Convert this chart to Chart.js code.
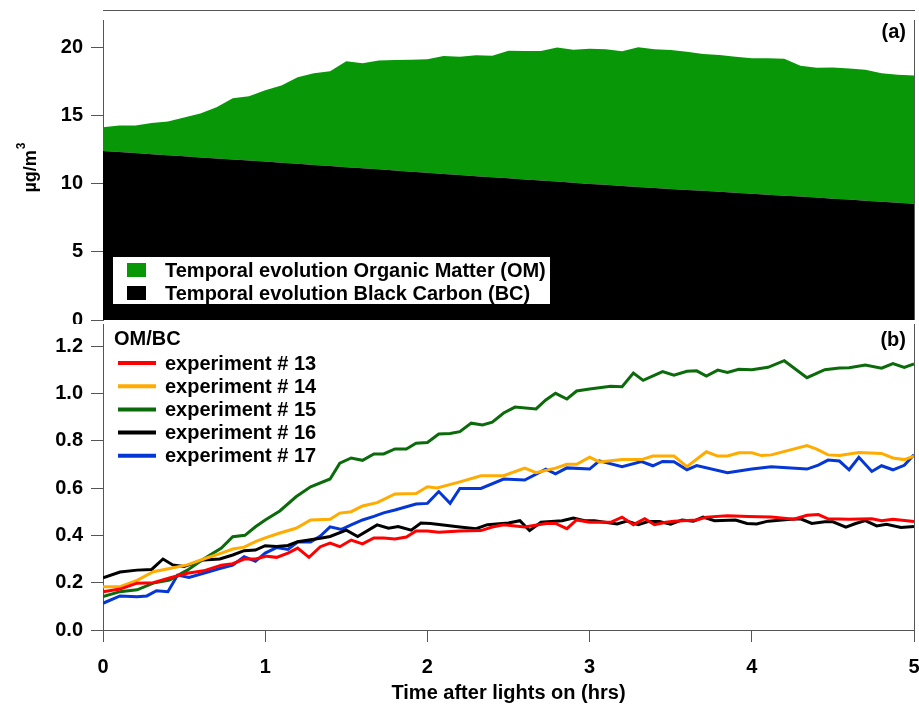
<!DOCTYPE html>
<html>
<head>
<meta charset="utf-8">
<script src="https://cdn.jsdelivr.net/npm/chart.js@4.4.1/dist/chart.umd.min.js"></script>
<style>
  html, body { margin: 0; padding: 0; background: #fff; }
  #wrap { position: relative; width: 919px; height: 705px; overflow: hidden; }
  #cTop { position: absolute; left: 0; top: 0; }
  #cBot { position: absolute; left: 0; top: 300px; }
</style>
</head>
<body>
<div id="wrap">
  <canvas id="cTop" width="919" height="340"></canvas>
  <canvas id="cBot" width="919" height="405"></canvas>
</div>
<script>
// ---- panel (a): mass concentrations, µg/m3 ----
var timeTop = [0, 0.1, 0.2, 0.3, 0.4, 0.5, 0.6, 0.7, 0.8, 0.9, 1.0, 1.1, 1.2, 1.3, 1.4, 1.5, 1.6, 1.7, 1.8, 1.9,
  2.0, 2.1, 2.2, 2.3, 2.4, 2.5, 2.6, 2.7, 2.8, 2.9, 3.0, 3.1, 3.2, 3.3, 3.4, 3.5, 3.6, 3.7, 3.8, 3.9,
  4.0, 4.1, 4.2, 4.3, 4.4, 4.5, 4.6, 4.7, 4.8, 4.9, 5.0];
var bcVals = [12.40, 12.32, 12.24, 12.16, 12.08, 12.00, 11.92, 11.85, 11.77, 11.70, 11.62, 11.54, 11.46, 11.37, 11.29,
  11.21, 11.13, 11.05, 10.97, 10.88, 10.80, 10.71, 10.63, 10.55, 10.47, 10.39, 10.31, 10.23, 10.15, 10.07,
  9.98, 9.91, 9.83, 9.76, 9.68, 9.61, 9.54, 9.47, 9.40, 9.33, 9.26, 9.19, 9.12, 9.05, 8.98, 8.90, 8.83,
  8.75, 8.67, 8.60, 8.52];
var omVals = [1.74, 1.94, 2.02, 2.29, 2.47, 2.85, 3.23, 3.75, 4.49, 4.70, 5.23, 5.66, 6.35, 6.73, 6.95, 7.76, 7.70,
  7.98, 8.10, 8.20, 8.32, 8.65, 8.68, 8.87, 8.91, 9.36, 9.41, 9.49, 9.83, 9.75, 9.91, 9.94, 9.88, 10.24,
  10.17, 10.19, 10.13, 10.03, 10.04, 9.97, 9.93, 10.00, 10.03, 9.60, 9.52, 9.62, 9.62, 9.60, 9.43, 9.38, 9.41];
var topTicks = [0, 5, 10, 15, 20];

// ---- panel (b): OM/BC ratio per experiment ----
var t13 = [0, 0.105, 0.21, 0.31, 0.41, 0.52, 0.62, 0.73, 0.8, 0.87, 0.94, 1.01, 1.07, 1.14, 1.2, 1.27, 1.34, 1.4, 1.46,
  1.53, 1.6, 1.67, 1.73, 1.8, 1.87, 1.93, 2.0, 2.07, 2.2, 2.33, 2.4, 2.47, 2.6, 2.73, 2.79, 2.86, 2.92, 3.0,
  3.13, 3.2, 3.27, 3.34, 3.4, 3.47, 3.52, 3.66, 3.72, 3.85, 3.98, 4.12, 4.26, 4.34, 4.41, 4.47, 4.6, 4.74,
  4.8, 4.87, 5.0];
var r13 = [0.162, 0.173, 0.198, 0.2, 0.22, 0.24, 0.25, 0.274, 0.28, 0.30, 0.30, 0.312, 0.307, 0.325, 0.346, 0.307,
  0.352, 0.367, 0.352, 0.38, 0.364, 0.389, 0.389, 0.385, 0.393, 0.418, 0.418, 0.413, 0.418, 0.42, 0.435,
  0.445, 0.435, 0.45, 0.45, 0.428, 0.465, 0.455, 0.455, 0.477, 0.445, 0.47, 0.445, 0.455, 0.46, 0.465,
  0.477, 0.483, 0.48, 0.477, 0.468, 0.485, 0.488, 0.47, 0.468, 0.47, 0.462, 0.468, 0.458];

var t14 = [0, 0.105, 0.21, 0.31, 0.41, 0.52, 0.62, 0.73, 0.8, 0.87, 0.94, 1.0, 1.09, 1.19, 1.28, 1.4, 1.46, 1.53, 1.6,
  1.69, 1.8, 1.93, 2.0, 2.06, 2.2, 2.33, 2.47, 2.6, 2.67, 2.79, 2.86, 2.92, 3.0, 3.06, 3.2, 3.32, 3.39, 3.52,
  3.6, 3.72, 3.79, 3.85, 3.92, 4.0, 4.06, 4.12, 4.34, 4.4, 4.47, 4.54, 4.66, 4.8, 4.87, 4.94, 5.0];
var r14 = [0.183, 0.183, 0.21, 0.246, 0.26, 0.275, 0.30, 0.325, 0.342, 0.35, 0.373, 0.389, 0.41, 0.43, 0.465, 0.468,
  0.494, 0.50, 0.524, 0.538, 0.575, 0.577, 0.605, 0.60, 0.626, 0.652, 0.652, 0.684, 0.665, 0.684, 0.70,
  0.70, 0.73, 0.71, 0.72, 0.72, 0.735, 0.735, 0.69, 0.753, 0.735, 0.735, 0.749, 0.749, 0.737, 0.74, 0.779,
  0.764, 0.74, 0.737, 0.75, 0.746, 0.727, 0.72, 0.735];

var t15 = [0, 0.105, 0.21, 0.31, 0.41, 0.52, 0.62, 0.73, 0.8, 0.875, 0.94, 1.0, 1.09, 1.19, 1.28, 1.4, 1.46, 1.53, 1.6,
  1.67, 1.73, 1.8, 1.87, 1.93, 2.0, 2.07, 2.14, 2.2, 2.27, 2.34, 2.4, 2.47, 2.54, 2.67, 2.73, 2.79, 2.86,
  2.92, 3.0, 3.13, 3.2, 3.27, 3.33, 3.45, 3.52, 3.6, 3.66, 3.72, 3.79, 3.85, 3.92, 4.0, 4.1, 4.2, 4.34, 4.45,
  4.54, 4.6, 4.7, 4.8, 4.87, 4.94, 5.0];
var r15 = [0.141, 0.162, 0.17, 0.198, 0.211, 0.253, 0.30, 0.346, 0.394, 0.40, 0.436, 0.465, 0.503, 0.563, 0.605,
  0.638, 0.705, 0.727, 0.717, 0.744, 0.744, 0.765, 0.765, 0.789, 0.792, 0.828, 0.83, 0.838, 0.874, 0.866,
  0.878, 0.917, 0.942, 0.934, 0.972, 1.0, 0.976, 1.01, 1.018, 1.03, 1.028, 1.086, 1.055, 1.092, 1.077,
  1.093, 1.095, 1.073, 1.098, 1.088, 1.102, 1.10, 1.11, 1.138, 1.066, 1.10, 1.107, 1.108, 1.12, 1.106,
  1.126, 1.11, 1.124];

var t16 = [0, 0.105, 0.21, 0.3, 0.37, 0.43, 0.5, 0.62, 0.72, 0.8, 0.87, 0.94, 1.0, 1.07, 1.14, 1.2, 1.34, 1.4, 1.5,
  1.57, 1.69, 1.76, 1.82, 1.9, 1.96, 2.02, 2.2, 2.3, 2.37, 2.5, 2.57, 2.63, 2.7, 2.83, 2.9, 2.97, 3.03, 3.17,
  3.23, 3.3, 3.36, 3.43, 3.5, 3.57, 3.64, 3.7, 3.77, 3.9, 3.97, 4.03, 4.1, 4.24, 4.3, 4.37, 4.45, 4.5, 4.58,
  4.64, 4.7, 4.77, 4.83, 4.92, 5.0];
var r16 = [0.22, 0.245, 0.253, 0.256, 0.30, 0.275, 0.268, 0.296, 0.30, 0.317, 0.335, 0.338, 0.356, 0.353, 0.357,
  0.373, 0.388, 0.395, 0.422, 0.395, 0.444, 0.43, 0.437, 0.422, 0.452, 0.45, 0.435, 0.428, 0.445, 0.452,
  0.462, 0.42, 0.455, 0.462, 0.473, 0.462, 0.462, 0.448, 0.46, 0.445, 0.458, 0.458, 0.447, 0.465, 0.46,
  0.477, 0.462, 0.465, 0.45, 0.448, 0.46, 0.468, 0.47, 0.45, 0.457, 0.457, 0.435, 0.45, 0.462, 0.44, 0.447,
  0.433, 0.437];

var t17 = [0, 0.105, 0.21, 0.27, 0.33, 0.4, 0.46, 0.53, 0.62, 0.72, 0.8, 0.87, 0.94, 1.0, 1.07, 1.14, 1.2, 1.28,
  1.34, 1.4, 1.47, 1.53, 1.6, 1.67, 1.73, 1.8, 1.93, 2.0, 2.07, 2.14, 2.2, 2.33, 2.47, 2.6, 2.73, 2.79,
  2.86, 3.0, 3.06, 3.2, 3.32, 3.39, 3.45, 3.52, 3.6, 3.66, 3.85, 3.92, 4.0, 4.12, 4.34, 4.41, 4.47, 4.54,
  4.6, 4.66, 4.74, 4.8, 4.87, 4.94, 5.0];
var r17 = [0.113, 0.144, 0.14, 0.144, 0.166, 0.162, 0.232, 0.222, 0.24, 0.26, 0.274, 0.31, 0.29, 0.325, 0.348, 0.34,
  0.372, 0.372, 0.397, 0.436, 0.425, 0.444, 0.465, 0.48, 0.495, 0.507, 0.532, 0.535, 0.585, 0.535, 0.598,
  0.598, 0.638, 0.634, 0.68, 0.66, 0.685, 0.68, 0.715, 0.69, 0.712, 0.694, 0.712, 0.711, 0.677, 0.695,
  0.665, 0.672, 0.68, 0.69, 0.68, 0.697, 0.718, 0.714, 0.677, 0.73, 0.67, 0.694, 0.677, 0.696, 0.74];

var botTicks = [0, 0.2, 0.4, 0.6, 0.8, 1.0, 1.2];
var xTicks = [0, 1, 2, 3, 4, 5];

var FONT = "'Liberation Sans', Arial, Helvetica, sans-serif";
var FS = 20; // main text size
var AXIS_COL = "#555";

function pts(xs, ys) {
  var out = [];
  for (var i = 0; i < xs.length; i++) out.push({ x: xs[i], y: ys[i] });
  return out;
}

function fixedTicks(list) {
  return function (axis) {
    axis.ticks = list.map(function (v) { return { value: v }; });
  };
}

// ---------- top chart ----------
var topDecor = {
  id: "topDecor",
  afterDraw: function (chart) {
    var ctx = chart.ctx;
    var a = chart.chartArea;
    ctx.save();
    ctx.strokeStyle = AXIS_COL;
    ctx.lineWidth = 1;
    ctx.beginPath();
    ctx.moveTo(a.left, 10.5);
    ctx.lineTo(a.right + 1, 10.5);
    ctx.moveTo(a.right + 0.5, a.top);
    ctx.lineTo(a.right + 0.5, a.bottom);
    ctx.stroke();

    // panel tag
    ctx.fillStyle = "#000";
    ctx.font = "bold " + FS + "px " + FONT;
    ctx.textAlign = "right";
    ctx.textBaseline = "middle";
    ctx.fillText("(a)", 906, 32);

    // legend box
    ctx.fillStyle = "#fff";
    ctx.fillRect(113, 257, 437, 47);
    var ds = chart.data.datasets;
    var order = [1, 0];
    ctx.textAlign = "left";
    for (var i = 0; i < order.length; i++) {
      var d = ds[order[i]];
      var cy = 270 + i * 23;
      ctx.fillStyle = d.backgroundColor;
      ctx.fillRect(127, cy - 7, 19, 14);
      ctx.fillStyle = "#000";
      ctx.fillText(d.label, 165, cy + 1);
    }

    // y title with superscript
    ctx.translate(36, 168);
    ctx.rotate(-Math.PI / 2);
    ctx.font = "bold 18px " + FONT;
    var w1 = ctx.measureText("µg/m").width;
    ctx.font = "bold 12px " + FONT;
    var w2 = ctx.measureText("3").width;
    var x0 = -(w1 + w2) / 2;
    ctx.font = "bold 18px " + FONT;
    ctx.textBaseline = "alphabetic";
    ctx.fillText("µg/m", x0, 0);
    ctx.font = "bold 12px " + FONT;
    ctx.fillText("3", x0 + w1 + 1, -11);
    ctx.restore();
  }
};

new Chart(document.getElementById("cTop"), {
  type: "line",
  data: {
    datasets: [
      {
        label: "Temporal evolution Black Carbon (BC)",
        data: pts(timeTop, bcVals),
        backgroundColor: "#000000",
        borderColor: "#000000",
        borderWidth: 0,
        pointRadius: 0,
        fill: "origin",
        tension: 0
      },
      {
        label: "Temporal evolution Organic Matter (OM)",
        data: pts(timeTop, omVals),
        backgroundColor: "#079707",
        borderColor: "#079707",
        borderWidth: 0,
        pointRadius: 0,
        fill: "-1",
        tension: 0
      }
    ]
  },
  options: {
    responsive: false,
    animation: false,
    layout: { padding: { top: 14, bottom: 18, left: 0, right: 5 } },
    plugins: { legend: { display: false }, tooltip: { enabled: false } },
    scales: {
      x: { type: "linear", min: 0, max: 5, display: false },
      y: {
        stacked: true,
        min: 0,
        max: 22,
        afterBuildTicks: fixedTicks(topTicks),
        afterFit: function (s) { s.width = 103; },
        border: { display: true, color: AXIS_COL, width: 1 },
        grid: { display: true, drawOnChartArea: false, tickLength: 12, tickColor: AXIS_COL },
        ticks: { color: "#000", padding: 8, font: { family: FONT, size: FS, weight: "bold" } }
      }
    }
  },
  plugins: [topDecor]
});

// ---------- bottom chart ----------
var botDecor = {
  id: "botDecor",
  beforeDraw: function (chart) {
    var ctx = chart.ctx;
    ctx.save();
    ctx.fillStyle = "#fff";
    ctx.fillRect(0, chart.chartArea.top, chart.width, chart.height - chart.chartArea.top);
    ctx.restore();
  },
  afterDraw: function (chart) {
    var ctx = chart.ctx;
    var a = chart.chartArea;
    ctx.save();
    ctx.strokeStyle = AXIS_COL;
    ctx.lineWidth = 1;
    ctx.beginPath();
    ctx.moveTo(a.right + 0.5, a.top);
    ctx.lineTo(a.right + 0.5, a.bottom);
    ctx.stroke();

    ctx.fillStyle = "#000";
    ctx.font = "bold " + FS + "px " + FONT;
    ctx.textAlign = "right";
    ctx.textBaseline = "middle";
    ctx.fillText("(b)", 906, 40);

    ctx.textAlign = "left";
    ctx.fillText("OM/BC", 114, 39);
    var ds = chart.data.datasets;
    for (var i = 0; i < ds.length; i++) {
      var cy = 63 + i * 23.2;
      ctx.strokeStyle = ds[i].borderColor;
      ctx.lineWidth = 4;
      ctx.beginPath();
      ctx.moveTo(118, cy);
      ctx.lineTo(156, cy);
      ctx.stroke();
      ctx.fillStyle = "#000";
      ctx.fillText(ds[i].label, 165, cy + 1);
    }
    ctx.restore();
  }
};

function lineSet(label, xs, ys, color) {
  return {
    label: label,
    data: pts(xs, ys),
    borderColor: color,
    backgroundColor: color,
    borderWidth: 3,
    pointRadius: 0,
    fill: false,
    tension: 0
  };
}

new Chart(document.getElementById("cBot"), {
  type: "line",
  data: {
    datasets: [
      lineSet("experiment # 13", t13, r13, "#ff0000"),
      lineSet("experiment # 14", t14, r14, "#ffab00"),
      lineSet("experiment # 15", t15, r15, "#0b6b0b"),
      lineSet("experiment # 16", t16, r16, "#000000"),
      lineSet("experiment # 17", t17, r17, "#0536d6")
    ]
  },
  options: {
    responsive: false,
    animation: false,
    layout: { padding: { top: 24, bottom: 0, left: 0, right: 5 } },
    plugins: { legend: { display: false }, tooltip: { enabled: false } },
    scales: {
      x: {
        type: "linear",
        min: 0,
        max: 5,
        afterBuildTicks: fixedTicks(xTicks),
        afterFit: function (s) {
          s.height = 75;
          s.paddingLeft = 0;
          s.paddingRight = 0;
        },
        border: { display: true, color: AXIS_COL, width: 1 },
        grid: { display: true, drawOnChartArea: false, tickLength: 12, tickColor: AXIS_COL },
        ticks: { color: "#000", padding: 13, maxRotation: 0, font: { family: FONT, size: FS, weight: "bold" } },
        title: {
          display: true,
          text: "Time after lights on (hrs)",
          color: "#000",
          padding: { top: 0, bottom: 0 },
          font: { family: FONT, size: FS, weight: "bold" }
        }
      },
      y: {
        min: 0,
        max: 1.293,
        afterBuildTicks: fixedTicks(botTicks),
        afterFit: function (s) { s.width = 103; },
        border: { display: true, color: AXIS_COL, width: 1 },
        grid: { display: true, drawOnChartArea: false, tickLength: 12, tickColor: AXIS_COL },
        ticks: {
          color: "#000",
          padding: 8,
          font: { family: FONT, size: FS, weight: "bold" },
          callback: function (v) { return Number(v).toFixed(1); }
        }
      }
    }
  },
  plugins: [botDecor]
});
</script>
</body>
</html>
